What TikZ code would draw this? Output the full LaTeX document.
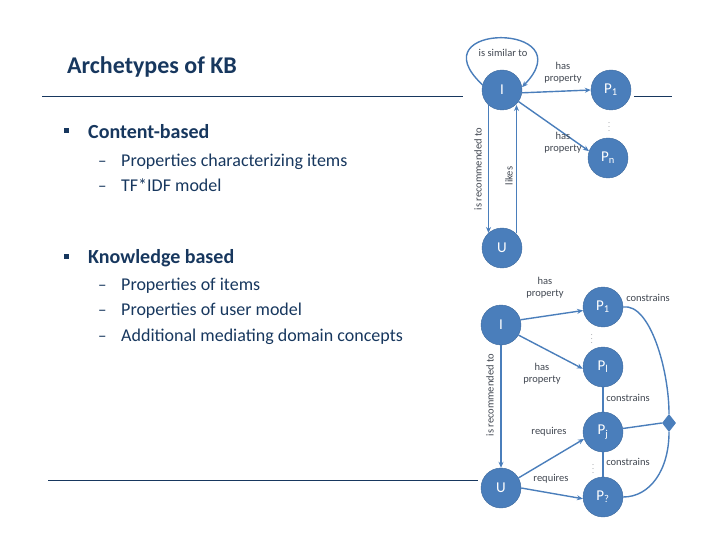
\documentclass[tikz,border=0pt]{standalone}
\usepackage{fontspec}
\setmainfont{Carlito}
\usetikzlibrary{shapes.geometric,arrows.meta}
\definecolor{navy}{RGB}{23,55,94}
\definecolor{nodeblue}{RGB}{74,126,187}
\definecolor{lblgray}{RGB}{64,70,80}
\tikzset{
  nd/.style={circle,fill=nodeblue,draw=nodeblue!85!black,line width=0.4pt,minimum size=40pt,inner sep=0pt,text=white,font=\fontsize{15}{15}\selectfont},
  lbl/.style={text=lblgray,font=\fontsize{10.5}{12}\selectfont,align=center,inner sep=0pt},
  dts/.style={text=lblgray,font=\fontsize{6}{6}\selectfont,inner sep=0pt},
  arr/.style={draw=nodeblue,line width=1.4pt,-{Stealth[length=6pt,width=5pt]}},
  ln/.style={draw=nodeblue,line width=1.4pt},
  title/.style={text=navy,font=\fontsize{24}{24}\selectfont\bfseries,anchor=base west,inner sep=0pt},
  head/.style={text=navy,font=\fontsize{20}{20}\selectfont\bfseries,anchor=base west,inner sep=0pt},
  sub/.style={text=navy,font=\fontsize{18}{18}\selectfont,anchor=base west,inner sep=0pt},
  dashmark/.style={text=navy,font=\fontsize{17}{17}\selectfont,anchor=base west,inner sep=0pt},
  sq/.style={fill=navy,minimum size=5pt,inner sep=0pt},
  rule/.style={draw=navy,line width=0.8pt}
}
\begin{document}
\begin{tikzpicture}[x=1pt,y=-1pt]
\useasboundingbox (0,0) rectangle (720,540);
% text part
\node[title] (t) at (67,74) {Archetypes of KB};
\coordinate (l1a) at (42,96); \coordinate (l1b) at (463,96);
\coordinate (l1c) at (634,96); \coordinate (l1d) at (672,96);
\draw[rule] (l1a) -- (l1b); \draw[rule] (l1c) -- (l1d);
\coordinate (l2a) at (48,480); \coordinate (l2b) at (478,480);
\draw[rule] (l2a) -- (l2b);

\node[sq] (b1) at (66,131) {};
\node[head] (h1) at (88,139) {Content-based};
\node[dashmark] (d11) at (98,166.5) {–};
\node[sub] (s11) at (121,166.5) {Properties characterizing items};
\node[dashmark] (d12) at (98,192) {–};
\node[sub] (s12) at (121,192) {TF*IDF model};

\node[sq] (b2) at (66,256) {};
\node[head] (h2) at (88,263) {Knowledge based};
\node[dashmark] (d21) at (98,290) {–};
\node[sub] (s21) at (121,290) {Properties of items};
\node[dashmark] (d22) at (98,315.5) {–};
\node[sub] (s22) at (121,315.5) {Properties of user model};
\node[dashmark] (d23) at (98,341.5) {–};
\node[sub] (s23) at (121,341.5) {Additional mediating domain concepts};

% top diagram
\node[nd] (I1) at (502,90) {I};
\node[nd] (P11) at (611,90) {P\textsubscript{1}};
\node[nd] (Pn) at (608,158) {P\textsubscript{n}};
\node[nd] (U1) at (502,248) {U};
\draw[arr] (I1.165) .. controls (415,22) and (585,22) .. (I1.8);
\node[lbl] (sim) at (503,53) {is similar to};
\draw[arr] (I1.-8) -- (P11.west);
\node[lbl] (hp1) at (563,73) {has\\property};
\draw[arr] (I1.-35) -- (Pn.160);
\node[lbl] (hp2) at (563,143) {has\\property};
\node[dts] (dots1) at (609,124) {\vdots};
\coordinate (ra) at (488.5,105); \coordinate (rb) at (488.5,233);
\draw[arr] (ra) -- (rb);
\coordinate (la) at (516.5,233); \coordinate (lb) at (516.5,105);
\draw[arr] (la) -- (lb);
\node[lbl,rotate=90] (rec1) at (478,169) {is recommended to};
\node[lbl,rotate=90] (likes) at (509,176) {likes};

% bottom diagram
\node[nd] (I2) at (501,325) {I};
\node[nd] (P12) at (603,307) {P\textsubscript{1}};
\node[nd] (Pl) at (603,367) {P\textsubscript{l}};
\node[nd] (Pj) at (603,432) {P\textsubscript{j}};
\node[nd] (Pq) at (603,497) {P\textsubscript{?}};
\node[nd] (U2) at (501,488) {U};
\node[diamond,fill=nodeblue,minimum width=14pt,minimum height=18pt,inner sep=0pt] (D) at (669,423) {};

\draw[arr] (I2.15) -- (P12.190);
\node[lbl] (hp3) at (545,288) {has\\property};
\draw[arr] (I2.-30) -- (Pl.185);
\node[lbl] (hp4) at (542,374) {has\\property};
\node[dts] (dots2) at (592,336) {\vdots};
\draw[arr] (I2.south) -- (U2.north);
\node[lbl,rotate=90] (rec2) at (490,395) {is recommended to};
\draw[arr] (U2.30) -- (Pj.200);
\node[lbl] (req1) at (549,432) {requires};
\draw[arr] (U2.east) -- (Pq.185);
\node[lbl] (req2) at (551,479) {requires};
\draw[ln] (Pl.south) -- (Pj.north);
\node[lbl] (c2) at (628,398) {constrains};
\draw[ln] (Pj.south) -- (Pq.north);
\node[lbl] (c3) at (628,462) {constrains};
\node[dts] (dots3) at (593,466) {\vdots};
\draw[ln] (P12.east) .. controls (650,303) and (669,370) .. (D.north);
\node[lbl] (c1) at (648,298) {constrains};
\draw[ln] (Pj.10) -- (D.west);
\draw[ln] (Pq.east) .. controls (650,497) and (669,470) .. (D.south);
\end{tikzpicture}
\end{document}
